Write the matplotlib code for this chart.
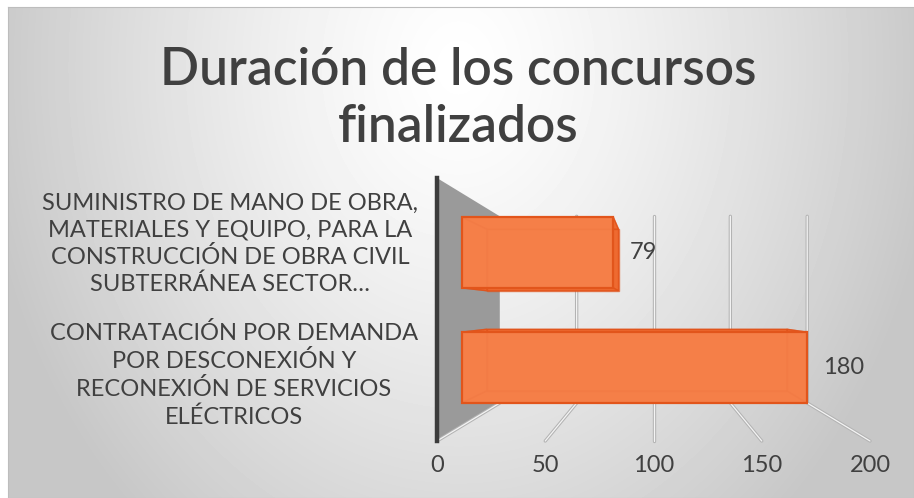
"""Duración de los concursos finalizados: barra horizontal con efecto 3D."""

import matplotlib
matplotlib.use("Agg")
import matplotlib.pyplot as plt
import numpy as np
from matplotlib.patches import Polygon

plt.rcParams["font.family"] = ["Lato", "DejaVu Sans"]

TITLE = "Duración de los concursos\nfinalizados"
categories = [
    "SUMINISTRO DE MANO DE OBRA,\nMATERIALES Y EQUIPO, PARA LA\nCONSTRUCCIÓN DE OBRA CIVIL\nSUBTERRÁNEA SECTOR…",
    "CONTRATACIÓN POR DEMANDA\nPOR DESCONEXIÓN Y\nRECONEXIÓN DE SERVICIOS\nELÉCTRICOS",
]
values = [79, 180]
x_ticks = [0, 50, 100, 150, 200]

TEXT = "#404040"
W_PX, H_PX = 914, 498

# view of the fake 3D box: depth d in [0 (front), 1 (back wall)]
VX, VY = 100.0, 131.0
SHRINK = 0.29
TOP = 263.0


def proj(v, h, d):
    k = 1 - SHRINK * d
    return VX + k * (v - VX), VY + k * (h - VY)


fig = plt.figure(figsize=(W_PX / 100, H_PX / 100), dpi=100)

# background radial gradient
bg = fig.add_axes([8 / W_PX, 0, 1 - 8 / W_PX, 1 - 7 / H_PX], zorder=-5)
yy, xx = np.mgrid[0:491, 0:906]
r = np.sqrt(((xx - 450) / 480) ** 2 + ((yy - 60) / 600) ** 2)
shade = 1 - np.clip(r, 0, 1) ** 1.3 * 0.22
bg.imshow(shade, cmap="gray", vmin=0, vmax=1, aspect="auto", interpolation="bilinear")
bg.set_xticks([])
bg.set_yticks([])
for s in bg.spines.values():
    s.set_color("#bdbdbd")

ax = fig.add_axes([437 / W_PX, 1 - 441 / H_PX, 433 / W_PX, TOP / H_PX])
ax.set_xlim(0, 200)
ax.set_ylim(0, TOP)
ax.patch.set_visible(False)
for s in ax.spines.values():
    s.set_visible(False)
ax.set_yticks([])
ax.set_xticks(x_ticks)
ax.set_xticklabels([str(t) for t in x_ticks])
ax.tick_params(axis="x", length=0, pad=10, labelsize=17, labelcolor=TEXT)

# side wall
wall = [proj(0, TOP, 0), proj(0, TOP, 1), proj(0, 0, 1), proj(0, 0, 0)]
ax.add_patch(Polygon(wall, closed=True, facecolor="#9a9a9a", edgecolor="none",
                     zorder=1, clip_on=False))

# gridlines: back wall verticals + floor lines
for t in x_ticks:
    pts = [proj(t, TOP, 1), proj(t, 0, 1), proj(t, 0, 0)] if t else [proj(t, 0, 1), proj(t, 0, 0)]
    xs, ys = zip(*pts)
    ax.plot(xs, ys, color="#b3b3b3", lw=2.4, zorder=2, clip_on=False, solid_capstyle="round")
    ax.plot(xs, ys, color="#f4f4f4", lw=0.9, zorder=2.1, clip_on=False, solid_capstyle="round")

ax.plot([0, 0], [0, TOP], color="#3c3c3c", lw=3.2, zorder=3, clip_on=False)

# bars as boxes
bar_rows = [(156, 236), (26, 106)]
D0, D1 = 0.397, 0.794
for val, (h0, h1) in zip(values, bar_rows):
    c = {(i, j, k): proj((0, val)[i], (h0, h1)[j], (D0, D1)[k])
         for i in (0, 1) for j in (0, 1) for k in (0, 1)}
    faces = [
        [c[0, 0, 1], c[1, 0, 1], c[1, 1, 1], c[0, 1, 1]],
        [c[0, 0, 0], c[0, 0, 1], c[0, 1, 1], c[0, 1, 0]],
        [c[1, 0, 0], c[1, 0, 1], c[1, 1, 1], c[1, 1, 0]],
        [c[0, 0, 0], c[1, 0, 0], c[1, 0, 1], c[0, 0, 1]],
        [c[0, 1, 0], c[1, 1, 0], c[1, 1, 1], c[0, 1, 1]],
    ]
    for f in faces:
        ax.add_patch(Polygon(f, closed=True, facecolor="#ee6a30", edgecolor="none",
                             zorder=4, clip_on=False))
    for f in faces:
        ax.add_patch(Polygon(f, closed=True, facecolor="none", edgecolor="#e0521a",
                             lw=1.0, alpha=0.7, zorder=4.2, clip_on=False))
    front = [c[0, 0, 0], c[1, 0, 0], c[1, 1, 0], c[0, 1, 0]]
    ax.add_patch(Polygon(front, closed=True, facecolor="#f7844e", edgecolor="none",
                         alpha=0.82, zorder=4.5, clip_on=False))
    ax.add_patch(Polygon(front, closed=True, facecolor="none", edgecolor="#e2551b",
                         lw=1.6, zorder=4.6, clip_on=False))
    lx, ly = proj(val, (h0 + h1) / 2, D0)
    ax.annotate(str(val), (lx, ly), xytext=(12, 0), textcoords="offset points",
                ha="left", va="center", fontsize=17, color=TEXT, zorder=6,
                annotation_clip=False)

# category labels (pixel rows from the top of the picture)
label_y = [244, 375]
for label, y in zip(categories, label_y):
    fig.text(418 / W_PX, 1 - y / H_PX, label, ha="right", va="center",
             multialignment="center", fontsize=17, color=TEXT, linespacing=1.33)

fig.text(458 / W_PX, 1 - 99 / H_PX, TITLE, ha="center", va="center",
         fontsize=37, color=TEXT, fontweight="semibold", linespacing=1.24)

fig.savefig("out.png", dpi=100)
